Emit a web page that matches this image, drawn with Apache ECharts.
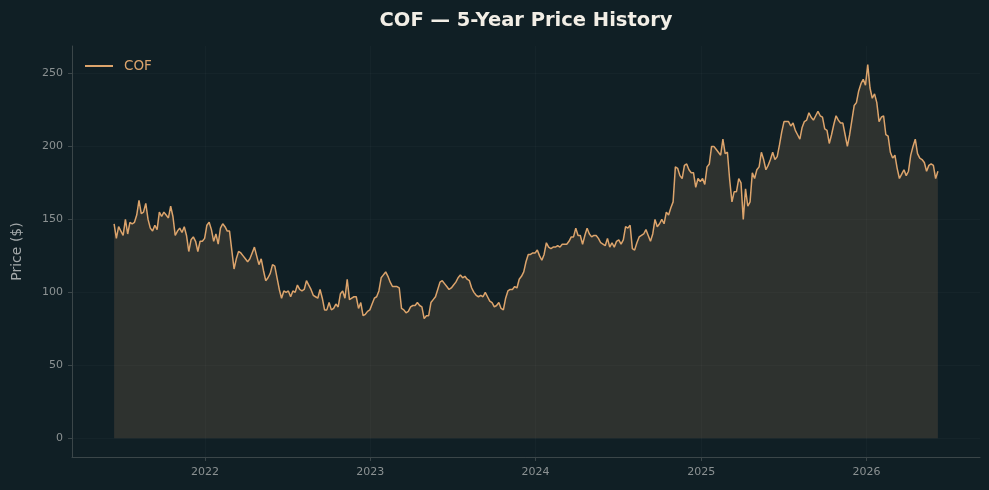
<!DOCTYPE html>
<html>
<head>
<meta charset="utf-8">
<title>COF 5-Year Price History</title>
<script src="https://cdn.jsdelivr.net/npm/echarts@6/dist/echarts.min.js"></script>
<style>
  html, body { margin: 0; padding: 0; background: #101f25; }
  #main { width: 989px; height: 490px; }
</style>
</head>
<body>
<div id="main"></div>
<script>
// closing prices, one sample every 5 days from 2021-06-14
const prices = [
  147,137,145,142,139,150,140,148,147,148,
  153,163,154,155,161,150,144,142,146,143,
  155,152,155,153,151,159,152,139,142,144,
  141,145,139,128,136,138,135,128,135,135,
  137,146,148,143,135,140,133,144,147,145,
  142,142,129,116,123,128,127,125,123,121,
  123,127,131,125,119,123,115,108,110,113,
  119,118,110,102,96,101,100,101,97,101,
  100,105,102,101,102,108,105,102,98,97,
  96,102,96,88,88,93,
  88,89,92,90,99,101,96,109,95,96,
  97,97,89,93,84,85,87,88,92,96,
  97,101,110,112,114,111,107,104,104,104,
  103,89,88,86,87,90,91,91,93,91,
  90,82,84,84,93,95,97,102,107,108,
  106,104,102,103,105,107,110,112,110,111,
  109,108,103,100,98,97,98,97,100,97,
  94,93,90,91,93,89,88,96,101,102,
  102,104,103,109,111,114,121,126,126,127,
  127,129,125,122,126,134,131,130,131,131,
  132,131,133,133,133,135,138,138,144,139,
  139,133,139,144,140,138,139,139,137,134,
  133,132,137,131,134,131,135,136,133,136,
  145,144,146,130,129,134,138,139,140,143,
  139,135,140,150,145,147,150,147,155,153,
  158,162,186,185,180,178,187,188,184,182,
  182,172,178,176,178,174,186,188,200,200,
  198,196,194,205,195,196,177,162,169,169,
  178,175,150,171,159,162,182,178,184,186,
  196,191,184,
  187,191,196,191,193,201,210,217,217,217,
  214,216,211,208,205,213,217,218,223,220,
  218,221,224,221,220,212,211,202,208,215,
  221,218,216,216,208,200,208,218,228,230,
  238,243,246,242,256,240,233,236,230,217,
  220,221,208,207,196,192,194,185,178,181,
  184,180,183,194,200,205,195,192,191,189,
  183,187,188,187,178,183
];
const startDate = [2021, 5, 14];
const stepDays = 5;
const yearTicks = [2022, 2023, 2024, 2025, 2026];
const priceTicks = [0, 50, 100, 150, 200, 250];

const dates = prices.map(function (_, i) {
  return new Date(startDate[0], startDate[1], startDate[2] + i * stepDays).getTime();
});
const seriesData = prices.map(function (p, i) { return [dates[i], p]; });
const yearValues = yearTicks.map(function (y) { return new Date(y, 0, 1).getTime(); });

const lineColor = '#dca46c';
const axisColor = '#3b4649';
const labelColor = '#8b9192';
const gridColor = 'rgba(255,255,255,0.025)';
const font = 'DejaVu Sans';

var myChart = echarts.init(document.getElementById('main'));
myChart.setOption({
  backgroundColor: '#101f25',
  animation: false,
  textStyle: { fontFamily: font },
  title: {
    text: 'COF — 5-Year Price History',
    left: 521,
    textAlign: 'center',
    top: 6,
    textStyle: { color: '#f2eee6', fontSize: 19.5, fontWeight: 'bold', fontFamily: font }
  },
  legend: {
    left: 80,
    top: 54,
    icon: 'rect',
    itemWidth: 28,
    itemHeight: 2,
    itemGap: 10,
    textStyle: { color: lineColor, fontSize: 13.5, fontFamily: font, padding: [0, 0, 0, 6] },
    data: ['COF']
  },
  grid: { left: 72, right: 9, top: 46, bottom: 33 },
  xAxis: {
    type: 'value',
    min: new Date(2021, 2, 13).getTime(),
    max: new Date(2026, 8, 9).getTime(),
    axisLine: { show: true, onZero: false, lineStyle: { color: axisColor, width: 1 } },
    axisTick: { show: true, length: 4, customValues: yearValues, lineStyle: { color: axisColor } },
    axisLabel: {
      customValues: yearValues,
      margin: 10,
      color: labelColor,
      fontSize: 11,
      fontFamily: font,
      formatter: function (v) { return String(new Date(v).getFullYear()); }
    },
    splitLine: { show: true, lineStyle: { color: gridColor } }
  },
  yAxis: {
    type: 'value',
    min: -12.8,
    max: 268.8,
    name: 'Price ($)',
    nameLocation: 'middle',
    nameGap: 48,
    nameTextStyle: { color: '#a4a9aa', fontSize: 14, fontFamily: font },
    axisLine: { show: true, onZero: false, lineStyle: { color: axisColor, width: 1 } },
    axisTick: { show: true, length: 4, customValues: priceTicks, lineStyle: { color: axisColor } },
    axisLabel: {
      customValues: priceTicks,
      margin: 9,
      color: labelColor,
      fontSize: 11,
      fontFamily: font
    },
    splitLine: { show: true, lineStyle: { color: gridColor } }
  },
  series: [
    {
      name: 'COF',
      type: 'line',
      data: seriesData,
      showSymbol: false,
      symbol: 'none',
      lineStyle: { color: lineColor, width: 1.5 },
      itemStyle: { color: lineColor },
      areaStyle: { color: 'rgba(220,164,108,0.15)', opacity: 1, origin: 0 }
    }
  ]
});
</script>
</body>
</html>
